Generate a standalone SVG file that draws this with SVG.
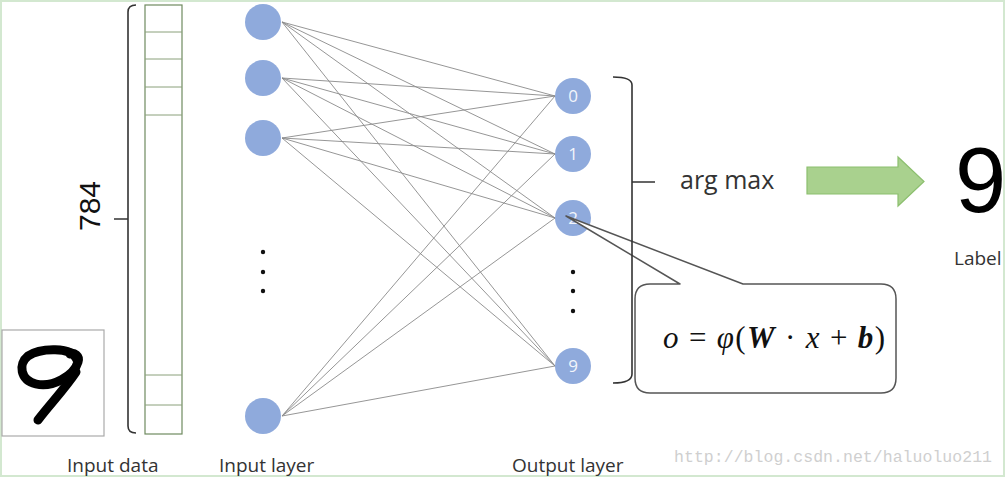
<svg xmlns="http://www.w3.org/2000/svg" width="1005" height="477" viewBox="0 0 1005 477">
<style>
.lbl{font-family:"Open Sans","Liberation Sans",sans-serif;fill:#333;font-size:19px}
.node{fill:#8faadc}
.num{font-family:"Open Sans","Liberation Sans",sans-serif;fill:#f2f5fb;font-size:17px;text-anchor:middle}
.conn line{stroke:#8a8a8a;stroke-width:0.9}
.br{fill:none;stroke:#333;stroke-width:1.6}
.dot{fill:#111}
.hw{fill:none;stroke:#000;stroke-width:9px;stroke-linecap:round;stroke-linejoin:round}
</style>
<rect x="1" y="1" width="1003" height="475" fill="#fff" stroke="#d3e8d0" stroke-width="2"/>
<g id="input-data">
<rect x="2" y="330" width="102" height="106" fill="#fff" stroke="#aaa" stroke-width="1.2"/>
<path class="hw" d="M77 360 C72 346 40 348 28 356 C18 364 20 380 36 384 C52 388 74 376 78 362 C80 356 74 352 70 354"/>
<path class="hw" d="M76 372 C64 390 50 404 38 420"/>
<rect x="145" y="5" width="37" height="429" fill="#fff" stroke="#6f8a5f" stroke-width="1.2"/>
<g stroke="#8aa07a" stroke-width="1">
<line x1="145" y1="32" x2="182" y2="32"/><line x1="145" y1="59" x2="182" y2="59"/>
<line x1="145" y1="87" x2="182" y2="87"/><line x1="145" y1="115" x2="182" y2="115"/>
<line x1="145" y1="375" x2="182" y2="375"/><line x1="145" y1="405" x2="182" y2="405"/>
</g>
<path class="br" d="M136 5 Q128 5 128 12 L128 426 Q128 433 136 433 M128 219 L114 219"/>
<text transform="translate(100 206) rotate(-90)" text-anchor="middle" font-family="Liberation Sans,sans-serif" font-size="30" fill="#111">784</text>
<text class="lbl" x="67" y="472">Input data</text>
</g>
<g id="connectors" class="conn">
<line x1="282" y1="22" x2="555" y2="96"/><line x1="282" y1="22" x2="555" y2="154"/><line x1="282" y1="22" x2="555" y2="218"/><line x1="282" y1="22" x2="555" y2="366"/>
<line x1="282" y1="78" x2="555" y2="96"/><line x1="282" y1="78" x2="555" y2="154"/><line x1="282" y1="78" x2="555" y2="218"/><line x1="282" y1="78" x2="555" y2="366"/>
<line x1="282" y1="138" x2="555" y2="96"/><line x1="282" y1="138" x2="555" y2="154"/><line x1="282" y1="138" x2="555" y2="218"/><line x1="282" y1="138" x2="555" y2="366"/>
<line x1="282" y1="416" x2="555" y2="96"/><line x1="282" y1="416" x2="555" y2="154"/><line x1="282" y1="416" x2="555" y2="218"/><line x1="282" y1="416" x2="555" y2="366"/>
</g>
<g id="input-layer">
<circle class="node" cx="263" cy="22" r="18"/>
<circle class="node" cx="263" cy="78" r="18"/>
<circle class="node" cx="263" cy="138" r="18"/>
<circle class="node" cx="263" cy="416" r="18"/>
<circle class="dot" cx="263" cy="252" r="2.2"/><circle class="dot" cx="263" cy="272" r="2.2"/><circle class="dot" cx="263" cy="291" r="2.2"/>
<text class="lbl" x="219" y="472">Input layer</text>
</g>
<g id="output-layer">
<circle class="node" cx="573" cy="96" r="18"/><text class="num" x="573" y="102">0</text>
<circle class="node" cx="573" cy="154" r="18"/><text class="num" x="573" y="160">1</text>
<circle class="node" cx="573" cy="218" r="18"/><text class="num" x="573" y="224">2</text>
<circle class="node" cx="573" cy="366" r="18"/><text class="num" x="573" y="372">9</text>
<circle class="dot" cx="573" cy="272" r="2.2"/><circle class="dot" cx="573" cy="291" r="2.2"/><circle class="dot" cx="573" cy="311" r="2.2"/>
<text class="lbl" x="512" y="472">Output layer</text>
</g>
<g id="callout">
<path d="M680 284 L566 216 L743 284 L881 284 Q896 284 896 299 L896 378 Q896 393 881 393 L650 393 Q635 393 635 378 L635 299 Q635 284 650 284 Z" fill="#fff" stroke="#555" stroke-width="1.5" stroke-linejoin="round"/>
<text x="663" y="348" font-family="Liberation Serif,serif" font-size="31" fill="#111" textLength="222"><tspan font-style="italic">o</tspan> = <tspan font-style="italic">φ</tspan>(<tspan font-style="italic" font-weight="bold">W</tspan> · <tspan font-style="italic">x</tspan> + <tspan font-style="italic" font-weight="bold">b</tspan>)</text>
</g>
<g id="argmax">
<path class="br" d="M613 77 Q632 77 632 85 L632 374 Q632 383 613 383 M632 182 L655 182"/>
<text x="680" y="189" font-family="Open Sans,Liberation Sans,sans-serif" font-size="25" fill="#333">arg max</text>
</g>
<g id="arrow">
<path d="M807 167 L898 167 L898 157 L924 181.5 L898 206 L898 194 L807 194 Z" fill="#a9d18e" stroke="#8cbf6e" stroke-width="1.2"/>
</g>
<g id="label">
<text x="955" y="212" font-family="Liberation Sans,sans-serif" font-size="92" fill="#000">9</text>
<text class="lbl" x="954" y="265">Label</text>
</g>
<text x="674" y="462" font-family="Liberation Mono,monospace" font-size="16.5" fill="#cfcfcf" textLength="318">http://blog.csdn.net/haluoluo211</text>
</svg>
